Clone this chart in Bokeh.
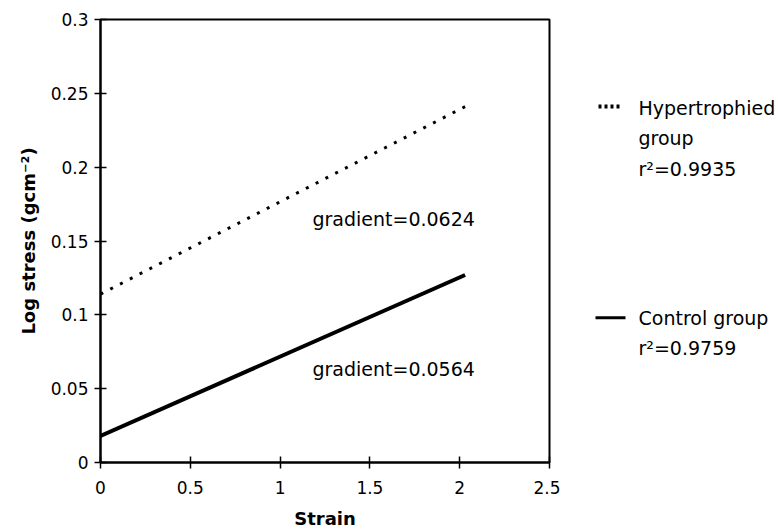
from bokeh.plotting import figure
from bokeh.layouts import row
from bokeh.models import Range1d, FixedTicker, Label
from bokeh.core.properties import value
from bokeh.embed import file_html
from bokeh.resources import INLINE

# Data (regression lines)
strain = [0.0, 2.03]
hyper_stress = [0.114, 0.241]
control_stress = [0.018, 0.127]

x_ticks = [0, 0.5, 1, 1.5, 2, 2.5]
x_tick_labels = ["0", "0.5", "1", "1.5", "2", "2.5"]
y_ticks = [0, 0.05, 0.1, 0.15, 0.2, 0.25, 0.3]
y_tick_labels = ["0", "0.05", "0.1", "0.15", "0.2", "0.25", "0.3"]

hyper_gradient_text = "gradient=0.0624"
control_gradient_text = "gradient=0.0564"
hyper_legend = ["Hypertrophied", "group", "r\u00b2=0.9935"]
control_legend = ["Control group", "r\u00b2=0.9759"]

FONT = "DejaVu Sans"

p = figure(width=560, height=531, output_backend="svg", toolbar_location=None,
           x_range=Range1d(0, 2.5), y_range=Range1d(0, 0.3),
           min_border_left=100, min_border_right=11, min_border_top=19, min_border_bottom=69)

p.background_fill_color = "white"
p.border_fill_color = "white"
p.outline_line_color = "black"
p.outline_line_width = 2
p.xgrid.visible = False
p.ygrid.visible = False

p.xaxis.ticker = FixedTicker(ticks=x_ticks)
p.yaxis.ticker = FixedTicker(ticks=y_ticks)
p.xaxis.major_label_overrides = {t: l for t, l in zip(x_ticks, x_tick_labels)}
p.yaxis.major_label_overrides = {t: l for t, l in zip(y_ticks, y_tick_labels)}

for ax in (p.xaxis, p.yaxis):
    ax.axis_line_width = 2
    ax.axis_line_color = "black"
    ax.major_tick_line_width = 1.5
    ax.major_tick_line_color = "black"
    ax.major_tick_in = 6
    ax.major_tick_out = 6
    ax.minor_tick_line_color = None
    ax.major_label_text_font = FONT
    ax.major_label_text_font_size = "17px"
    ax.major_label_text_color = "black"
    ax.axis_label_text_font = FONT
    ax.axis_label_text_font_size = "18px"
    ax.axis_label_text_font_style = "bold"
    ax.axis_label_text_color = "black"

p.xaxis.axis_label = "Strain"
p.yaxis.axis_label = "Log stress (gcm\u207b\u00b2)"
p.xaxis.major_label_standoff = 12
p.xaxis.axis_label_standoff = 11
p.yaxis.major_label_standoff = 6
p.yaxis.axis_label_standoff = 9

p.line(strain, hyper_stress, line_color="black", line_width=3, line_dash="3 8")
p.line(strain, control_stress, line_color="black", line_width=4)

p.add_layout(Label(x=1.18, y=0.165, text=hyper_gradient_text, text_font=FONT,
                   text_font_size="19px", text_baseline="middle", text_color="black"))
p.add_layout(Label(x=1.18, y=0.0635, text=control_gradient_text, text_font=FONT,
                   text_font_size="19px", text_baseline="middle", text_color="black"))

# Legend panel: shares the y scale of the chart, x in pixels
lg = figure(width=218, height=531, output_backend="svg", toolbar_location=None,
            x_range=Range1d(0, 218), y_range=p.y_range,
            x_axis_type=None, y_axis_type=None,
            min_border_left=0, min_border_right=0, min_border_top=19, min_border_bottom=69)
lg.outline_line_color = None
lg.xgrid.visible = False
lg.ygrid.visible = False

lg.line([38, 62], [0.241, 0.241], line_color="black", line_width=4, line_dash="3 3")
lg.line([35, 65], [0.098, 0.098], line_color="black", line_width=3)
lg.text(x=[78] * 3, y=[0.2404, 0.2199, 0.1989], text=hyper_legend, text_font=value(FONT),
        text_font_size="19px", text_baseline="middle", text_color="black")
lg.text(x=[78] * 2, y=[0.098, 0.0777], text=control_legend, text_font=value(FONT),
        text_font_size="19px", text_baseline="middle", text_color="black")

layout = row(p, lg)
open("out.html", "w").write(file_html(layout, INLINE))
